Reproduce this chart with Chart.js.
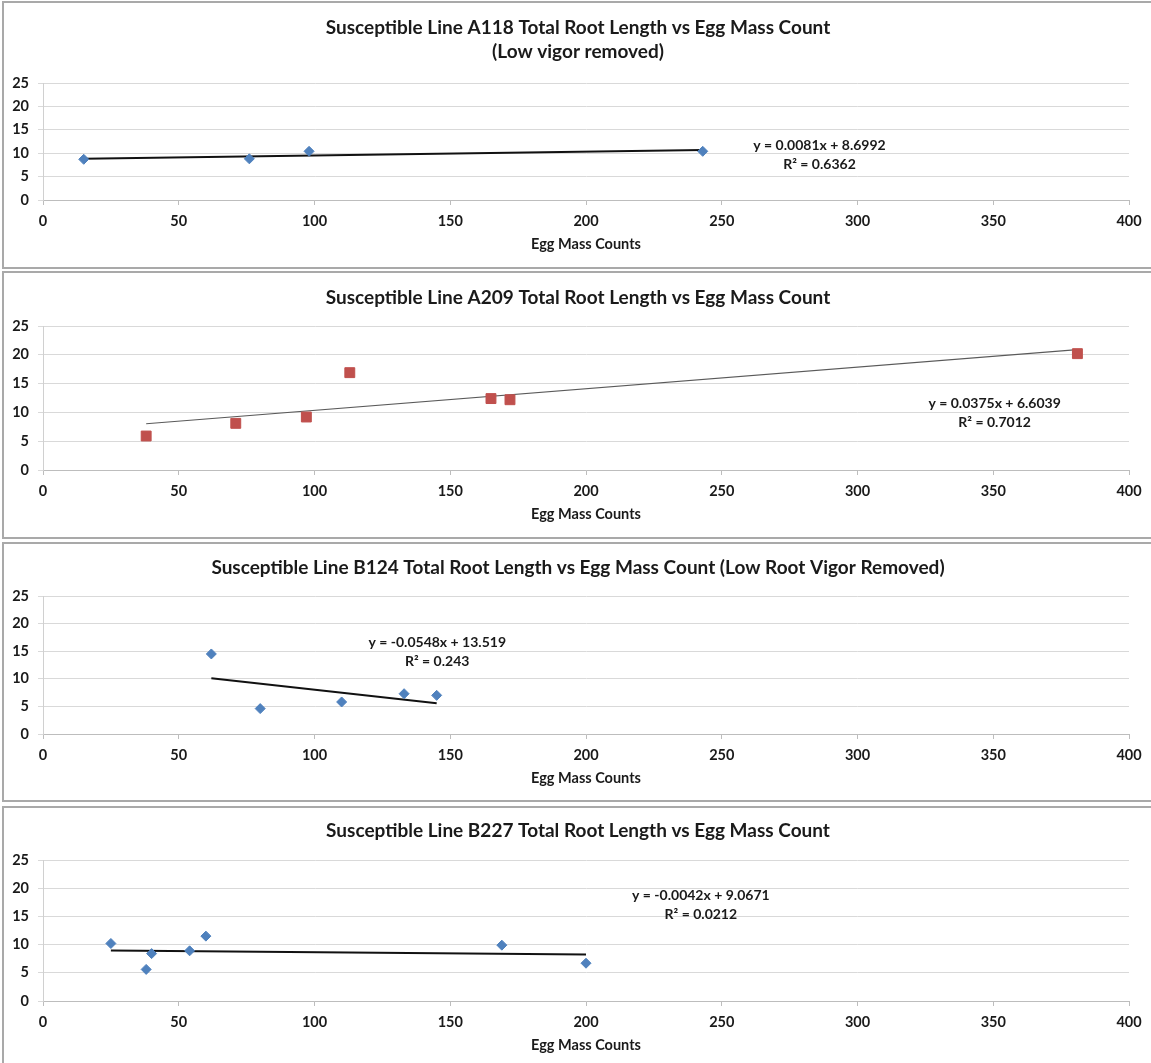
<!DOCTYPE html>
<html lang="en">
<head>
  <meta charset="UTF-8" />
  <title>Total Root Length vs Egg Mass Count</title>
  <script src="https://cdn.jsdelivr.net/npm/chart.js"></script>
  <style>
    html, body { margin: 0; padding: 0; background: #fff; overflow: hidden; }
    body { width: 1151px; height: 1063px; position: relative; }
    .panel {
      position: absolute; left: 2px; width: 1152px;
      box-sizing: border-box; border: 2px solid #a9a9a9; background: #fff;
    }
    .panel canvas { display: block; }
  </style>
</head>
<body>

  <div class="panel" style="top:1px;height:268px"><canvas id="chartA118"></canvas></div>
  <div class="panel" style="top:271px;height:268px"><canvas id="chartA209"></canvas></div>
  <div class="panel" style="top:542px;height:260px"><canvas id="chartB124"></canvas></div>
  <div class="panel" style="top:806px;height:300px"><canvas id="chartB227"></canvas></div>

  <script>
    // values
    const xTicks = [0, 50, 100, 150, 200, 250, 300, 350, 400];
    const yTicks = [0, 5, 10, 15, 20, 25];

    const a118Egg = [15, 76, 98, 243];
    const a118Root = [8.7, 8.8, 10.4, 10.4];
    const a118TrendEgg = [15, 243];
    const a118TrendRoot = [8.82, 10.67];

    const a209Egg = [38, 71, 97, 113, 165, 172, 381];
    const a209Root = [5.9, 8.1, 9.2, 16.9, 12.4, 12.2, 20.2];
    const a209TrendEgg = [38, 381];
    const a209TrendRoot = [8.03, 20.89];

    const b124Egg = [62, 80, 110, 133, 145];
    const b124Root = [14.5, 4.6, 5.8, 7.3, 7.0];
    const b124TrendEgg = [62, 145];
    const b124TrendRoot = [10.12, 5.57];

    const b227Egg = [25, 38, 40, 54, 60, 169, 200];
    const b227Root = [10.2, 5.6, 8.4, 8.9, 11.5, 9.9, 6.7];
    const b227TrendEgg = [25, 200];
    const b227TrendRoot = [8.96, 8.23];

    const FONT = 'Lato, "Open Sans", sans-serif';

    function pairs(xs, ys) {
      return xs.map((x, i) => ({ x: x, y: ys[i] }));
    }

    // writes the trendline equation and R² at a spot given in axis units
    const eqLabel = {
      id: 'eqLabel',
      afterDatasetsDraw(chart, args, opts) {
        if (!opts.lines) return;
        const ctx = chart.ctx;
        const px = chart.scales.x.getPixelForValue(opts.at[0]);
        const py = chart.scales.y.getPixelForValue(opts.at[1]);
        ctx.save();
        ctx.font = 'bold 14px ' + FONT;
        ctx.fillStyle = '#1a1a1a';
        ctx.textAlign = 'center';
        ctx.textBaseline = 'middle';
        opts.lines.forEach((t, i) => ctx.fillText(t, px, py + i * 19));
        ctx.restore();
      }
    };

    function makeChart(id, cfg) {
      const el = document.getElementById(id);
      const box = el.parentElement;
      el.width = box.clientWidth;
      el.height = box.clientHeight;
      el.style.width = box.clientWidth + 'px';
      el.style.height = box.clientHeight + 'px';

      return new Chart(el, {
        type: 'scatter',
        data: {
          datasets: [
            {
              label: 'Total Root Length',
              data: pairs(cfg.egg, cfg.root),
              pointStyle: cfg.square ? 'rect' : 'rectRot',
              pointRadius: cfg.square ? 7 : 5,
              backgroundColor: cfg.color,
              borderColor: cfg.color,
              borderWidth: 1
            },
            {
              label: 'Linear',
              type: 'line',
              data: pairs(cfg.trendEgg, cfg.trendRoot),
              borderColor: cfg.trendColor || '#111',
              borderWidth: cfg.trendWidth || 2,
              pointRadius: 0,
              fill: false
            }
          ]
        },
        options: {
          responsive: false,
          animation: false,
          events: [],
          layout: { padding: { left: 0, right: 0, top: 0, bottom: cfg.padBottom } },
          plugins: {
            legend: { display: false },
            tooltip: { enabled: false },
            title: {
              display: true,
              text: cfg.title,
              color: '#1a1a1a',
              font: { family: FONT, size: 19, weight: 'bold', lineHeight: '24px' },
              padding: { top: cfg.titleTop, bottom: cfg.titleBottom }
            },
            eqLabel: { lines: cfg.eq, at: cfg.eqAt }
          },
          scales: {
            x: {
              type: 'linear',
              min: 0, max: 400,
              afterBuildTicks: s => { s.ticks = xTicks.map(v => ({ value: v })); },
              afterFit: s => { s.height = 60; },
              ticks: { color: '#1a1a1a', padding: 8, font: { family: FONT, size: 14.5, weight: 'bold' } },
              grid: { drawOnChartArea: false, drawTicks: true, tickLength: 5, color: '#bdbdbd' },
              border: { display: true, color: '#bdbdbd' },
              title: {
                display: true,
                text: 'Egg Mass Counts',
                color: '#1a1a1a',
                font: { family: FONT, size: 14.5, weight: 'bold', lineHeight: 1.2 },
                padding: { top: 0, bottom: 7 }
              }
            },
            y: {
              min: 0, max: 25,
              afterBuildTicks: s => { s.ticks = yTicks.map(v => ({ value: v })); },
              afterFit: s => { s.width = 39; },
              ticks: { color: '#1a1a1a', padding: 9, font: { family: FONT, size: 14.5, weight: 'bold' } },
              grid: { color: '#d9d9d9', tickLength: 5 },
              border: { display: true, color: '#d0d0d0' }
            },
            // empty right margin, so the title centres on the whole panel
            yRight: {
              position: 'right',
              min: 0, max: 25,
              afterFit: s => { s.width = 23; },
              ticks: { display: false },
              grid: { display: false },
              border: { display: false }
            }
          }
        },
        plugins: [eqLabel]
      });
    }

    makeChart('chartA118', {
      title: ['Susceptible Line A118 Total Root Length vs Egg Mass Count', '(Low vigor removed)'],
      titleTop: 13, titleBottom: 19, padBottom: 7,
      egg: a118Egg, root: a118Root, trendEgg: a118TrendEgg, trendRoot: a118TrendRoot,
      color: '#4f81bd',
      eq: ['y = 0.0081x + 8.6992', 'R\u00b2 = 0.6362'], eqAt: [286, 11.6]
    });

    makeChart('chartA209', {
      title: 'Susceptible Line A209 Total Root Length vs Egg Mass Count',
      titleTop: 13, titleBottom: 16, padBottom: 7,
      egg: a209Egg, root: a209Root, trendEgg: a209TrendEgg, trendRoot: a209TrendRoot,
      color: '#c0504d', square: true, trendColor: '#5a5a5a', trendWidth: 1.2,
      eq: ['y = 0.0375x + 6.6039', 'R\u00b2 = 0.7012'], eqAt: [350.5, 11.5]
    });

    makeChart('chartB124', {
      title: 'Susceptible Line B124 Total Root Length vs Egg Mass Count (Low Root Vigor Removed)',
      titleTop: 12, titleBottom: 16, padBottom: 6,
      egg: b124Egg, root: b124Root, trendEgg: b124TrendEgg, trendRoot: b124TrendRoot,
      color: '#4f81bd',
      eq: ['y = -0.0548x + 13.519', 'R\u00b2 = 0.243'], eqAt: [145.2, 16.6]
    });

    makeChart('chartB227', {
      title: 'Susceptible Line B227 Total Root Length vs Egg Mass Count',
      titleTop: 11, titleBottom: 17, padBottom: 43,
      egg: b227Egg, root: b227Root, trendEgg: b227TrendEgg, trendRoot: b227TrendRoot,
      color: '#4f81bd',
      eq: ['y = -0.0042x + 9.0671', 'R\u00b2 = 0.0212'], eqAt: [242.3, 18.7]
    });
  </script>

</body>
</html>
